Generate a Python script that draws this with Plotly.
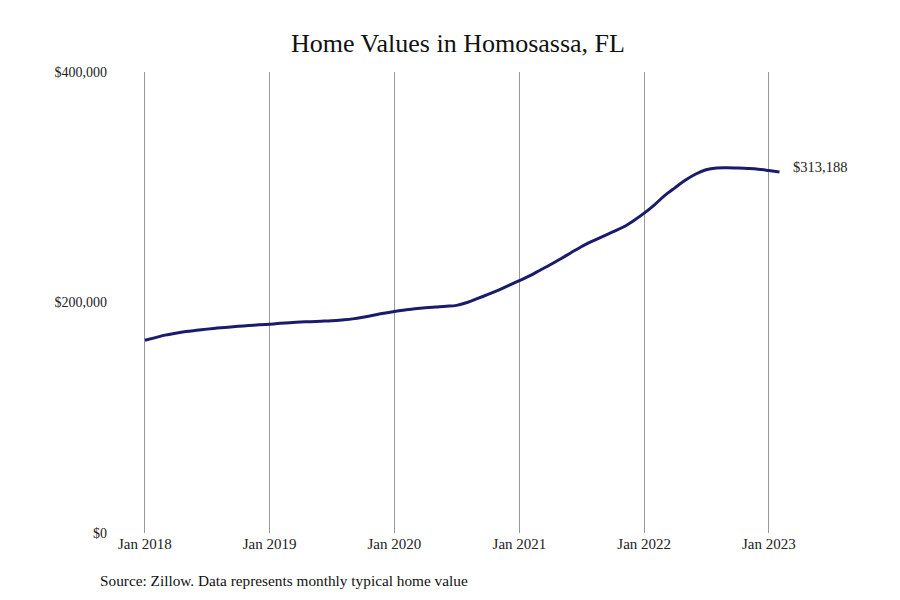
import pandas as pd
import plotly.graph_objects as go

# Monthly typical home value, Jan 2018 - Feb 2023
months = pd.date_range("2018-01-01", "2023-02-01", freq="MS")
values = [
    167200, 169500, 171700, 173400, 174800, 175900, 176900, 177800, 178600, 179300, 180000, 180600,
    181200, 181900, 182500, 183000, 183400, 183800, 184200, 184900, 185800, 187200, 189000, 190700,
    192200, 193500, 194600, 195500, 196100, 196700, 197500, 200000, 203500, 207000, 210700, 214800,
    219000, 223300, 227800, 232700, 237800, 243200, 248400, 253000, 257200, 261200, 265500, 271000,
    277500, 285000, 292500, 299500, 306000, 311500, 315200, 316800, 317000, 316700, 316300, 315700,
    314500, 313188,
]
tick_dates = ["2018-01-01", "2019-01-01", "2020-01-01", "2021-01-01", "2022-01-01", "2023-01-01"]
tick_labels = ["Jan 2018", "Jan 2019", "Jan 2020", "Jan 2021", "Jan 2022", "Jan 2023"]
y_ticks = [0, 200000, 400000]
y_labels = ["$0", "$200,000", "$400,000"]

serif = "Liberation Serif, Times New Roman, serif"

fig = go.Figure()
fig.add_trace(go.Scatter(
    x=months, y=values, mode="lines",
    line=dict(color="#1b1b6b", width=3, shape="spline"),
    showlegend=False, hoverinfo="x+y",
))

# end label
fig.add_annotation(
    x=months[-1], y=values[-1], text=f"${values[-1]:,}",
    showarrow=False, xanchor="left", yanchor="middle", xshift=12, yshift=5,
    font=dict(family=serif, size=14.5, color="#222"),
)

# source note
fig.add_annotation(
    x=0, y=0, xref="paper", yref="paper", xanchor="left", yanchor="middle",
    xshift=-10, yshift=-47, text="Source: Zillow. Data represents monthly typical home value",
    showarrow=False, font=dict(family=serif, size=15.3, color="#111"),
)

fig.update_layout(
    width=900, height=600,
    margin=dict(l=100, r=40, t=64, b=75),
    paper_bgcolor="white", plot_bgcolor="white",
    title=dict(text="Home Values in Homosassa, FL", x=0.5, xanchor="center", y=0.942, yanchor="middle",
               font=dict(family=serif, size=26, color="#111")),
    font=dict(family=serif, size=14, color="#222"),
)
fig.update_xaxes(
    range=["2017-09-15", "2023-10-18"],
    tickvals=tick_dates, ticktext=tick_labels,
    tickfont=dict(size=15),
    showgrid=True, gridcolor="#999", gridwidth=1,
    zeroline=False, showline=False, ticks="",
)
fig.update_yaxes(
    range=[0, 400000], tickvals=y_ticks, ticktext=y_labels,
    tickfont=dict(size=14),
    showgrid=False, zeroline=False, showline=False, ticks="",
)

fig.write_html("out.html")
